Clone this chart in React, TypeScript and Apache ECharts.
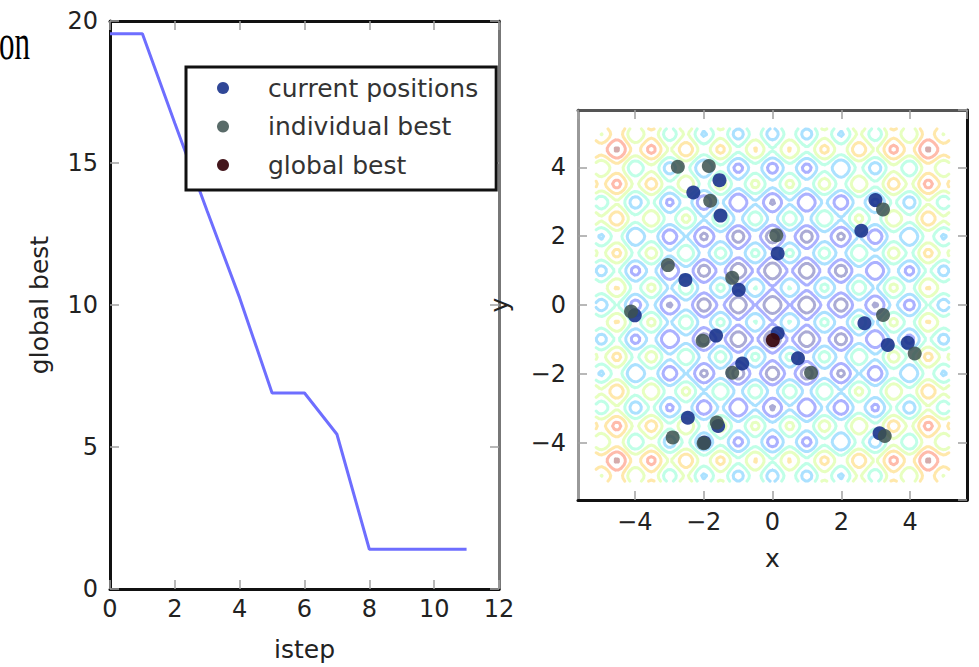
import React, { useEffect, useRef } from "react";
import * as echarts from "echarts";

// ---- left panel: global best per step ----
const steps = [0, 1, 2, 3, 4, 5, 6, 7, 8, 9, 10, 11];
const globalBestValues = [19.55, 19.55, 16.4, 13.3, 10.25, 6.9, 6.9, 5.45, 1.4, 1.4, 1.4, 1.4];

// ---- right panel: particles ----
const currentX = [-1.54, -2.3, -1.51, 0.15, -2.53, -0.98, -4.0, -1.64, 0.15, -0.88, -2.46, -1.58, -1.98, 2.99, 2.58, 2.67, 3.35, 3.93, 0.74, 3.11];
const currentY = [3.63, 3.27, 2.6, 1.5, 0.73, 0.44, -0.3, -0.89, -0.82, -1.7, -3.28, -3.52, -4.0, 3.05, 2.16, -0.53, -1.16, -1.1, -1.55, -3.73];
const bestX = [-2.75, -1.85, -1.81, 0.11, -3.04, -1.17, -4.11, -2.03, -1.17, -1.62, -2.9, -2.0, 3.21, 3.21, 4.13, 1.12, 3.26];
const bestY = [4.02, 4.04, 3.03, 2.03, 1.16, 0.79, -0.19, -1.04, -1.97, -3.42, -3.85, -4.02, 2.78, -0.29, -1.41, -1.97, -3.81];
const globalX = [0.01];
const globalY = [-1.02];

// ---- contour field (Rastrigin function) ----
const contourLevels = [10, 20, 30, 40, 50, 60, 70, 80];
const fieldDomain = [-5.12, 5.12];
const fieldSamples = 129;

const xTickLabelsLeft = ["0", "2", "4", "6", "8", "10", "12"];

function rastrigin(x: number, y: number) {
  return 20 + x * x - 10 * Math.cos(2 * Math.PI * x) + y * y - 10 * Math.cos(2 * Math.PI * y);
}

function interpSeg(pts: number[][], t: number) {
  for (let i = 0; i < pts.length - 1; i++) {
    const [t0, v0] = pts[i];
    const [t1, v1] = pts[i + 1];
    if (t >= t0 && t <= t1) return v0 + ((v1 - v0) * (t - t0)) / (t1 - t0 || 1);
  }
  return pts[pts.length - 1][1];
}
function jet(t: number) {
  const r = interpSeg([[0, 0], [0.35, 0], [0.66, 1], [0.89, 1], [1, 0.5]], t);
  const g = interpSeg([[0, 0], [0.125, 0], [0.375, 1], [0.64, 1], [0.91, 0], [1, 0]], t);
  const b = interpSeg([[0, 0.5], [0.11, 1], [0.34, 1], [0.65, 0], [1, 0]], t);
  return `rgb(${Math.round(r * 255)},${Math.round(g * 255)},${Math.round(b * 255)})`;
}

function buildField() {
  const n = fieldSamples;
  const xs: number[] = [];
  for (let i = 0; i < n; i++) xs.push(fieldDomain[0] + ((fieldDomain[1] - fieldDomain[0]) * i) / (n - 1));
  const z: number[][] = [];
  for (let j = 0; j < n; j++) {
    const row: number[] = [];
    for (let i = 0; i < n; i++) row.push(rastrigin(xs[i], xs[j]));
    z.push(row);
  }
  return { xs, z };
}

function contourSegments(xs: number[], z: number[][], L: number) {
  const segs: number[][] = [];
  const n = xs.length;
  const cross = (xa: number, ya: number, va: number, xb: number, yb: number, vb: number) => {
    const t = (L - va) / (vb - va);
    return [xa + (xb - xa) * t, ya + (yb - ya) * t];
  };
  for (let j = 0; j < n - 1; j++) {
    for (let i = 0; i < n - 1; i++) {
      const x0 = xs[i], x1 = xs[i + 1], y0 = xs[j], y1 = xs[j + 1];
      const a = z[j][i], b = z[j][i + 1], c = z[j + 1][i + 1], d = z[j + 1][i];
      const pts: number[][] = [];
      if ((a < L) !== (b < L)) pts.push(cross(x0, y0, a, x1, y0, b));
      if ((b < L) !== (c < L)) pts.push(cross(x1, y0, b, x1, y1, c));
      if ((d < L) !== (c < L)) pts.push(cross(x0, y1, d, x1, y1, c));
      if ((a < L) !== (d < L)) pts.push(cross(x0, y0, a, x0, y1, d));
      if (pts.length === 2) segs.push([pts[0][0], pts[0][1], pts[1][0], pts[1][1]]);
      else if (pts.length === 4) {
        const center = (a + b + c + d) / 4;
        if ((center < L) === (a < L)) {
          segs.push([pts[0][0], pts[0][1], pts[1][0], pts[1][1]]);
          segs.push([pts[2][0], pts[2][1], pts[3][0], pts[3][1]]);
        } else {
          segs.push([pts[0][0], pts[0][1], pts[3][0], pts[3][1]]);
          segs.push([pts[1][0], pts[1][1], pts[2][0], pts[2][1]]);
        }
      }
    }
  }
  return segs;
}

const FONT = "DejaVu Sans";
const TXT = "#222";

function fmtMinus(v: number) {
  if (Math.abs(v - Math.round(v)) > 1e-6) return "";
  const r = Math.round(v);
  return r < 0 ? "\u2212" + -r : String(r);
}

export default function App() {
  const ref = useRef<HTMLDivElement>(null);
  useEffect(() => {
    if (!ref.current) return;
    const chart = echarts.init(ref.current, undefined, { renderer: "svg" });
    const { xs, z } = buildField();
    const levelSegs = contourLevels.map((L) => contourSegments(xs, z, L));
    const lvMin = contourLevels[0];
    const lvMax = contourLevels[contourLevels.length - 1];

    const tick = { show: true, inside: true, length: 9, lineStyle: { color: "#a0a0a0", width: 1.5 } };
    const label = { fontFamily: FONT, fontSize: 24, color: TXT };
    const name = { fontFamily: FONT, fontSize: 25, color: TXT };
    const line = (color: string) => ({ show: true, onZero: false, lineStyle: { color, width: 3 } });

    const option: any = {
      animation: false,
      backgroundColor: "#fff",
      graphic: [
        {
          type: "text",
          x: 30,
          y: 67,
          scaleX: 0.62,
          style: { text: "on", font: '50px "Liberation Serif"', fill: "#000", align: "right", verticalAlign: "bottom", textAlign: "right", textVerticalAlign: "bottom" },
        },
      ],
      grid: [
        { left: 110, top: 21, width: 389, height: 571 },
        { left: 578, top: 110, width: 389, height: 390 },
      ],
      legend: {
        data: ["current positions", "individual best", "global best"],
        orient: "vertical",
        left: 186,
        top: 67,
        padding: [8, 18, 12, 31],
        itemGap: 12.5,
        itemWidth: 12,
        itemHeight: 12,
        borderColor: "#111",
        borderWidth: 3,
        backgroundColor: "#fff",
        textStyle: { fontFamily: FONT, fontSize: 25, lineHeight: 26, color: "#333", padding: [0, 0, 0, 34] },
      },
      xAxis: [
        {
          gridIndex: 0, type: "value", position: "bottom", min: 0, max: 12, interval: 2,
          name: "istep", nameLocation: "middle", nameGap: 48, nameTextStyle: name,
          axisLine: line("#111"),
          axisTick: tick, splitLine: { show: false },
          axisLabel: { ...label, margin: 8, formatter: (v: number) => xTickLabelsLeft[Math.round(v / 2)] ?? String(v) },
        },
        {
          gridIndex: 0, type: "value", position: "top", min: 0, max: 12, interval: 2,
          axisLine: line("#111"),
          axisTick: tick, splitLine: { show: false }, axisLabel: { show: false },
        },
        {
          gridIndex: 1, type: "value", position: "bottom", min: -5.65, max: 5.65, splitNumber: 5,
          name: "x", nameLocation: "middle", nameGap: 46, nameTextStyle: name,
          axisLine: line("#111"),
          axisTick: tick, splitLine: { show: false },
          axisLabel: { ...label, margin: 10, formatter: fmtMinus, showMinLabel: false, showMaxLabel: false },
        },
        {
          gridIndex: 1, type: "value", position: "top", min: -5.65, max: 5.65, splitNumber: 5,
          axisLine: line("#555"),
          axisTick: tick, splitLine: { show: false }, axisLabel: { show: false },
        },
      ],
      yAxis: [
        {
          gridIndex: 0, type: "value", position: "left", min: 0, max: 20, interval: 5,
          name: "global best", nameLocation: "middle", nameGap: 58, nameRotate: 90, nameTextStyle: name,
          axisLine: line("#111"),
          axisTick: tick, splitLine: { show: false },
          axisLabel: { ...label, margin: 12 },
        },
        {
          gridIndex: 0, type: "value", position: "right", min: 0, max: 20, interval: 5,
          axisLine: line("#777"),
          axisTick: tick, splitLine: { show: false }, axisLabel: { show: false },
        },
        {
          gridIndex: 1, type: "value", position: "left", min: -5.67, max: 5.67, splitNumber: 5,
          name: "y", nameLocation: "middle", nameGap: 66, nameRotate: 90, nameTextStyle: name,
          axisLine: line("#999"),
          axisTick: tick, splitLine: { show: false },
          axisLabel: { ...label, margin: 12, formatter: fmtMinus, showMinLabel: false, showMaxLabel: false },
        },
        {
          gridIndex: 1, type: "value", position: "right", min: -5.67, max: 5.67, splitNumber: 5,
          axisLine: line("#111"),
          axisTick: tick, splitLine: { show: false }, axisLabel: { show: false },
        },
      ],
      series: [
        {
          type: "line", xAxisIndex: 0, yAxisIndex: 0,
          data: steps.map((s, i) => [s, globalBestValues[i]]),
          showSymbol: false, lineStyle: { color: "#6e6eff", width: 3 }, itemStyle: { color: "#6e6eff" },
          z: 3,
        },
        {
          type: "custom", xAxisIndex: 2, yAxisIndex: 2, silent: true, z: 1,
          data: contourLevels.map((L, i) => [0, 0, i]),
          encode: { x: 0, y: 1 },
          renderItem: (params: any, api: any) => {
            const idx = api.value(2);
            const segs = levelSegs[idx];
            const o = api.coord([0, 0]);
            const ox = api.coord([1, 0]);
            const oy = api.coord([0, 1]);
            const sx = ox[0] - o[0];
            const sy = oy[1] - o[1];
            let d = "";
            let lx = NaN, ly = NaN;
            for (const s of segs) {
              let ax = o[0] + s[0] * sx, ay = o[1] + s[1] * sy;
              let bx = o[0] + s[2] * sx, by = o[1] + s[3] * sy;
              if (Math.abs(bx - lx) < 0.01 && Math.abs(by - ly) < 0.01) {
                const tx = ax, ty = ay; ax = bx; ay = by; bx = tx; by = ty;
              }
              if (Math.abs(ax - lx) < 0.01 && Math.abs(ay - ly) < 0.01) {
                d += "L" + bx.toFixed(1) + " " + by.toFixed(1);
              } else {
                d += "M" + ax.toFixed(1) + " " + ay.toFixed(1) + "L" + bx.toFixed(1) + " " + by.toFixed(1);
              }
              lx = bx; ly = by;
            }
            const L = contourLevels[idx];
            return {
              type: "path",
              shape: { pathData: d },
              style: { fill: "none", stroke: jet((L - lvMin) / (lvMax - lvMin)), lineWidth: 3, opacity: 0.33, lineJoin: "round", lineCap: "round" },
            };
          },
        },
        {
          name: "current positions", type: "scatter", xAxisIndex: 2, yAxisIndex: 2, z: 4,
          symbol: "circle", symbolSize: 14,
          data: currentX.map((x, i) => [x, currentY[i]]),
          itemStyle: { color: "#1a338c", opacity: 0.9 },
        },
        {
          name: "individual best", type: "scatter", xAxisIndex: 2, yAxisIndex: 2, z: 5,
          symbol: "circle", symbolSize: 14,
          data: bestX.map((x, i) => [x, bestY[i]]),
          itemStyle: { color: "#3c514f", opacity: 0.85 },
        },
        {
          name: "global best", type: "scatter", xAxisIndex: 2, yAxisIndex: 2, z: 6,
          symbol: "circle", symbolSize: 14,
          data: globalX.map((x, i) => [x, globalY[i]]),
          itemStyle: { color: "#3a0a10", opacity: 0.95 },
        },
      ],
    };
    chart.setOption(option);
    return () => chart.dispose();
  }, []);
  return <div ref={ref} style={{ position: "absolute", left: 0, top: 0, width: 979, height: 667 }} />;
}
